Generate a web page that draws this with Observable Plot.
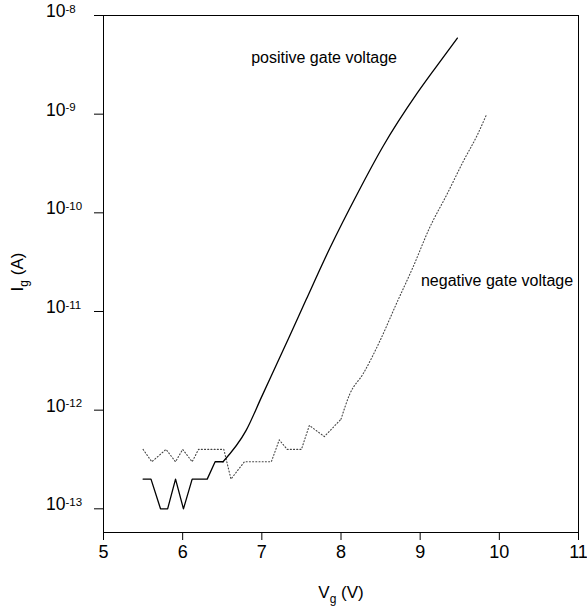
<!DOCTYPE html>
<html>
<head>
<meta charset="utf-8">
<script src="https://cdn.jsdelivr.net/npm/d3@7"></script>
<script src="https://cdn.jsdelivr.net/npm/@observablehq/plot@0.6"></script>
<style>
  html, body { margin: 0; padding: 0; background: #fff; }
  #chart svg { display: block; }
</style>
</head>
<body>
<div id="chart"></div>
<script>
// Positive gate voltage (solid)
const posV = [5.5, 5.6, 5.72, 5.81, 5.91, 6.01, 6.12, 6.31, 6.41, 6.51, 6.8, 7.0, 7.35, 7.56, 7.86, 8.21, 8.53, 8.96, 9.2, 9.47];
const posI = [2e-13, 2e-13, 1e-13, 1e-13, 2e-13, 1e-13, 2e-13, 2e-13, 3e-13, 3e-13, 6.2e-13, 1.38e-12, 5.6e-12, 1.32e-11, 4.4e-11, 1.58e-10, 4.7e-10, 1.62e-9, 3.0e-9, 5.9e-9];

// Negative gate voltage (dotted)
const negV = [5.5, 5.61, 5.79, 5.91, 6.0, 6.12, 6.2, 6.52, 6.61, 6.78, 7.12, 7.22, 7.32, 7.5, 7.6, 7.79, 8.0, 8.11, 8.28, 8.49, 8.70, 8.91, 9.12, 9.34, 9.55, 9.72, 9.84];
const negI = [4e-13, 3e-13, 4e-13, 3e-13, 4e-13, 3e-13, 4e-13, 4e-13, 2e-13, 3e-13, 3e-13, 5e-13, 4e-13, 4e-13, 7e-13, 5.4e-13, 8.1e-13, 1.45e-12, 2.34e-12, 5.0e-12, 1.2e-11, 2.82e-11, 7.08e-11, 1.55e-10, 3.39e-10, 6.1e-10, 1.0e-9];

// Voltage where the noisy floor ends and the smooth rise begins
const posSplit = 6.51;
const negSplit = 8.0;

const xTicks = [5, 6, 7, 8, 9, 10, 11];
const yExponents = [-8, -9, -10, -11, -12, -13];

const labels = [
  {x: 6.865, y: 10 ** -8.43, text: "positive gate voltage"},
  {x: 9.01, y: 10 ** -10.69, text: "negative gate voltage"}
];

const pos = posV.map((v, i) => ({v, i: posI[i]}));
const neg = negV.map((v, i) => ({v, i: negI[i]}));
const yTicks = yExponents.map(e => 10 ** e);

const FONT = "'Liberation Sans', Arial, Helvetica, sans-serif";

const chart = Plot.plot({
  width: 587,
  height: 610,
  marginLeft: 103,
  marginRight: 9,
  marginTop: 15,
  marginBottom: 78,
  style: {fontFamily: FONT, background: "#fff", color: "#000"},
  x: {domain: [5, 11]},
  y: {type: "log", domain: [10 ** -13.24, 1e-8]},
  marks: [
    Plot.frame({stroke: "#000", strokeWidth: 1}),
    Plot.axisX({ticks: xTicks, tickSize: 8, tickPadding: 5, fontSize: 18, label: null, tickFormat: d => String(d), stroke: "#000"}),
    Plot.axisY({ticks: yTicks, tickSize: 9, tickFormat: () => "", label: null, stroke: "#000"}),
    Plot.text(yTicks, {y: d => d, text: () => "10", frameAnchor: "left", dx: -38, dy: -4, textAnchor: "end", fontSize: 17.5, fill: "#000"}),
    Plot.text(yExponents, {y: d => 10 ** d, text: d => String(d), frameAnchor: "left", dx: -38, dy: -11, textAnchor: "start", lineAnchor: "top", fontSize: 11.5, fill: "#000"}),
    Plot.line(neg.filter(d => d.v <= negSplit), {x: "v", y: "i", stroke: "#444", strokeWidth: 1.1, strokeDasharray: "1,2.2"}),
    Plot.line(neg.filter(d => d.v >= negSplit), {x: "v", y: "i", stroke: "#444", strokeWidth: 1.1, strokeDasharray: "1,2.2", curve: "monotone-x"}),
    Plot.line(pos.filter(d => d.v <= posSplit), {x: "v", y: "i", stroke: "#000", strokeWidth: 1.3}),
    Plot.line(pos.filter(d => d.v >= posSplit), {x: "v", y: "i", stroke: "#000", strokeWidth: 1.3, curve: "monotone-x"}),
    Plot.text(labels, {x: "x", y: "y", text: "text", textAnchor: "start", fontSize: 16, fill: "#000"})
  ]
});

document.getElementById("chart").appendChild(chart);

// Axis titles with subscripts
const svg = d3.select(chart);
const xl = svg.append("text")
  .attr("x", 341).attr("y", 598)
  .attr("text-anchor", "middle")
  .attr("font-family", FONT).attr("font-size", 17).attr("fill", "#000");
xl.append("tspan").text("V");
xl.append("tspan").attr("dy", 5).attr("font-size", 12).text("g");
xl.append("tspan").attr("dy", -5).text(" (V)");

const yl = svg.append("text")
  .attr("transform", "translate(23,272) rotate(-90)")
  .attr("text-anchor", "middle")
  .attr("font-family", FONT).attr("font-size", 17).attr("fill", "#000");
yl.append("tspan").text("I");
yl.append("tspan").attr("dy", 5).attr("font-size", 12).text("g");
yl.append("tspan").attr("dy", -5).text(" (A)");
</script>
</body>
</html>
